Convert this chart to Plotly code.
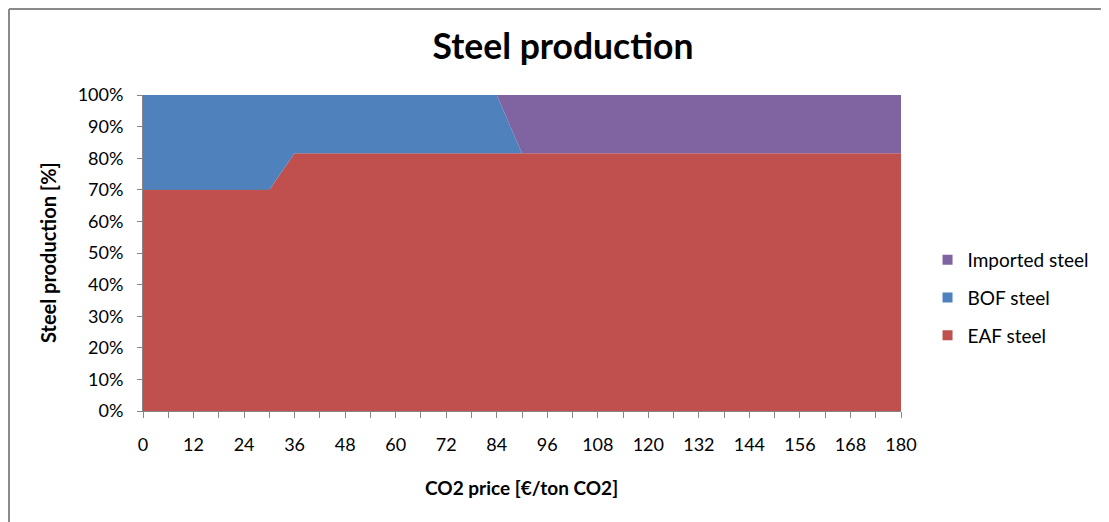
import plotly.graph_objects as go

# CO2 price categories (€/ton CO2)
co2_price = list(range(0, 181, 6))

# Shares of steel production (%)
eaf_steel = [70.0, 70.0, 70.0, 70.0, 70.0, 70.0, 81.6, 81.6, 81.6, 81.6, 81.6, 81.6,
             81.6, 81.6, 81.6, 81.6, 81.6, 81.6, 81.6, 81.6, 81.6, 81.6, 81.6, 81.6,
             81.6, 81.6, 81.6, 81.6, 81.6, 81.6, 81.6]
bof_steel = [30.0, 30.0, 30.0, 30.0, 30.0, 30.0, 18.4, 18.4, 18.4, 18.4, 18.4, 18.4,
             18.4, 18.4, 18.4, 0.0, 0.0, 0.0, 0.0, 0.0, 0.0, 0.0, 0.0, 0.0,
             0.0, 0.0, 0.0, 0.0, 0.0, 0.0, 0.0]
imported_steel = [0.0, 0.0, 0.0, 0.0, 0.0, 0.0, 0.0, 0.0, 0.0, 0.0, 0.0, 0.0,
                  0.0, 0.0, 0.0, 18.4, 18.4, 18.4, 18.4, 18.4, 18.4, 18.4, 18.4, 18.4,
                  18.4, 18.4, 18.4, 18.4, 18.4, 18.4, 18.4]

x_tick_labels = list(range(0, 181, 12))
y_tick_values = list(range(0, 101, 10))

series = [
    ("EAF steel", eaf_steel, "#C0504D"),
    ("BOF steel", bof_steel, "#4F81BD"),
    ("Imported steel", imported_steel, "#8064A2"),
]

FONT = "Lato"
GRAY = "#868686"

# page body has an 8px default margin; figure is sized/placed to compensate
OFF = 8
W, H = 1109 - OFF, 522 - OFF
L, T = 143 - OFF, 95 - OFF
PW, PH = 758, 316

fig = go.Figure()
for name, vals, color in series:
    fig.add_trace(go.Scatter(
        x=co2_price, y=vals, name=name, stackgroup="one", mode="none",
        fillcolor=color, line=dict(width=0), showlegend=False, hoverinfo="x+y+name"))

# legend-only markers (small squares like the original), top-to-bottom order
for rank, (name, vals, color) in enumerate(reversed(series)):
    fig.add_trace(go.Scatter(
        x=[None], y=[None], name=name, mode="markers", legendgroup=name,
        legendrank=rank + 1,
        marker=dict(symbol="square", size=10, color=color), showlegend=True))

def px(xp):
    return (xp - 143) / PW

def py(yp):
    return (411 - yp) / PH

fig.update_layout(
    width=W, height=H,
    margin=dict(l=L, r=W - L - PW, t=T, b=H - T - PH),
    paper_bgcolor="white", plot_bgcolor="white",
    font=dict(family=FONT, size=18, color="#000000"),
    title=dict(text="<b>Steel production</b>", x=px(563), xref="paper", xanchor="center",
               y=1 - (47 - OFF) / H, yanchor="middle",
               font=dict(family=FONT, size=35.5, color="#000")),
    legend=dict(x=1.035, xanchor="left", y=py(298), yanchor="middle",
                traceorder="grouped", tracegroupgap=10,
                font=dict(family=FONT, size=19), itemwidth=30,
                bgcolor="rgba(0,0,0,0)"),
    showlegend=True,
)

fig.update_xaxes(
    range=[0, 180], tickmode="array", tickvals=x_tick_labels,
    ticktext=[str(v) for v in x_tick_labels],
    ticks="outside", ticklen=6, tickcolor=GRAY, tickwidth=1,
    minor=dict(dtick=6, tick0=0, ticks="outside", ticklen=6, tickcolor=GRAY, tickwidth=1),
    showline=True, linecolor=GRAY, linewidth=1, showgrid=False, zeroline=False,
    ticklabelstandoff=11, tickfont=dict(family=FONT, size=18),
)
fig.update_yaxes(
    range=[0, 100], tickmode="array", tickvals=y_tick_values,
    ticktext=[f"{v}%" for v in y_tick_values],
    ticks="outside", ticklen=5, tickcolor=GRAY, tickwidth=1,
    showline=True, linecolor=GRAY, linewidth=1, showgrid=True, gridcolor=GRAY,
    zeroline=False, ticklabelstandoff=10, tickfont=dict(family=FONT, size=18),
)

# axis titles
fig.add_annotation(text="<b>CO2 price [€/ton CO2]</b>", xref="paper", yref="paper",
                   x=px(521), y=py(487), xanchor="center", yanchor="middle",
                   showarrow=False, font=dict(family=FONT, size=19))
fig.add_annotation(text="<b>Steel production [%]</b>", xref="paper", yref="paper",
                   x=px(48), y=py(253), xanchor="center", yanchor="middle",
                   textangle=-90, showarrow=False, font=dict(family=FONT, size=20))

# chart-area border (top and left edges visible); kept just inside the figure
BX, BY = OFF + 1, OFF + 1
fig.add_shape(type="line", xref="paper", yref="paper",
              x0=px(BX), x1=px(1109), y0=py(BY), y1=py(BY),
              line=dict(color="#8a8a8a", width=2))
fig.add_shape(type="line", xref="paper", yref="paper",
              x0=px(BX), x1=px(BX), y0=py(530), y1=py(BY),
              line=dict(color="#8a8a8a", width=2))

fig.write_html("out.html")
